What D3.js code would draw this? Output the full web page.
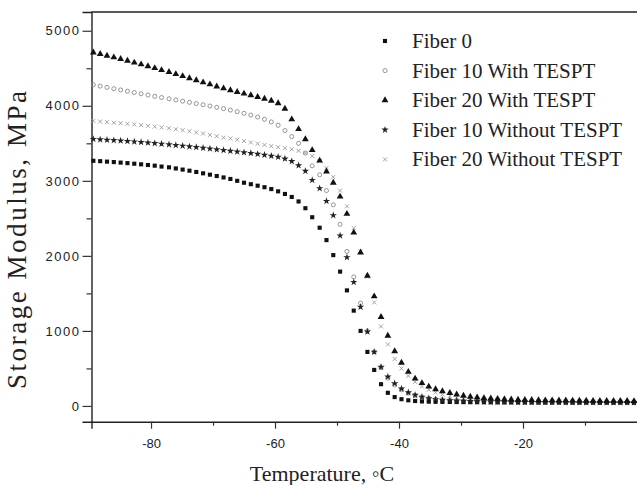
<!DOCTYPE html>
<html>
<head>
<meta charset="utf-8">
<script src="https://cdn.jsdelivr.net/npm/d3@7"></script>
<style>
  body { margin: 0; background: #fff; }
  svg { display: block; }
</style>
</head>
<body>
<div id="chart"></div>
<script>
// Temperature samples (°C), shared by all series
const temps = [
  -89.3, -88.2, -87.1, -86.0, -84.9, -83.8, -82.7, -81.6, -80.5, -79.4,
  -78.3, -77.1, -76.0, -74.9, -73.8, -72.7, -71.6, -70.5, -69.4, -68.3,
  -67.2, -66.1, -65.0, -63.9, -62.8, -61.7, -60.6, -59.5, -58.4, -57.3,
  -56.2, -55.1, -54.0, -52.8, -51.7, -50.6, -49.5, -48.4, -47.3, -46.2,
  -45.1, -44.0, -42.9, -41.8, -40.7, -39.6, -38.5, -37.4, -36.3, -35.2,
  -34.1, -33.0, -31.8, -30.7, -29.6, -28.5, -27.4, -26.3, -25.2, -24.1,
  -23.0, -21.9, -20.8, -19.7, -18.6, -17.5, -16.4, -15.3, -14.2, -13.1,
  -12.0, -10.9, -9.8, -8.7, -7.6, -6.5, -5.4, -4.3, -3.2, -2.1
];

// Storage modulus (MPa)
const fiber0 = [
  3267, 3262, 3256, 3250, 3243, 3236, 3228, 3220, 3211, 3202,
  3190, 3180, 3165, 3150, 3135, 3118, 3100, 3082, 3064, 3045,
  3025, 3000, 2975, 2955, 2935, 2915, 2890, 2860, 2825, 2785,
  2725, 2635, 2515, 2375, 2210, 2010, 1790, 1540, 1270, 1000,
  720, 480, 290, 175, 118, 90, 75, 66, 60, 57,
  55, 54, 53, 52, 51, 50, 50, 49, 49, 48,
  48, 48, 47, 47, 47, 46, 46, 46, 46, 45,
  45, 45, 45, 45, 44, 44, 44, 44, 44, 44
];
const fiber10With = [
  4280, 4262, 4245, 4228, 4211, 4194, 4177, 4160, 4143, 4126,
  4110, 4094, 4078, 4062, 4046, 4030, 4014, 3997, 3980, 3962,
  3943, 3922, 3900, 3876, 3850, 3820, 3785, 3740, 3670, 3590,
  3500, 3370, 3200, 3080, 2870, 2680, 2420, 2060, 1720, 1370,
  1000, 720, 510, 370, 280, 215, 170, 140, 118, 102,
  90, 82, 76, 71, 67, 64, 61, 59, 57, 55,
  54, 53, 52, 52, 51, 51, 50, 50, 50, 50,
  49, 49, 49, 49, 48, 48, 48, 48, 48, 48
];
const fiber20With = [
  4710, 4690, 4668, 4646, 4624, 4600, 4576, 4552, 4527, 4502,
  4476, 4450, 4423, 4396, 4368, 4340, 4312, 4285, 4258, 4232,
  4208, 4185, 4162, 4140, 4118, 4094, 4068, 4035, 3960, 3820,
  3690, 3555, 3410, 3270, 3125, 2975, 2790, 2560, 2310, 2045,
  1735, 1460, 1185, 935, 730, 575, 455, 365, 305, 258,
  222, 196, 172, 152, 136, 123, 113, 105, 99, 94,
  90, 86, 83, 81, 79, 77, 75, 74, 73, 72,
  71, 70, 69, 68, 68, 67, 67, 66, 66, 65
];
const fiber10Without = [
  3556, 3550, 3545, 3540, 3535, 3528, 3522, 3515, 3508, 3500,
  3492, 3484, 3475, 3466, 3457, 3448, 3438, 3428, 3418, 3408,
  3398, 3388, 3378, 3368, 3357, 3345, 3332, 3318, 3295, 3260,
  3205, 3130, 3010, 2900, 2730, 2540, 2270, 1980, 1650, 1320,
  990, 720, 520, 390, 300, 230, 180, 145, 120, 100,
  88, 80, 74, 70, 66, 63, 60, 58, 56, 55,
  54, 53, 52, 52, 51, 51, 50, 50, 50, 49,
  49, 49, 49, 48, 48, 48, 48, 48, 47, 47
];
const fiber20Without = [
  3800, 3790, 3782, 3775, 3768, 3760, 3752, 3743, 3733, 3722,
  3712, 3700, 3688, 3675, 3660, 3645, 3630, 3612, 3595, 3575,
  3565, 3548, 3530, 3512, 3495, 3478, 3462, 3448, 3435, 3420,
  3400, 3370, 3330, 3260, 3170, 3050, 2870, 2660, 2370, 2060,
  1720, 1380, 1060, 820, 625, 500, 400, 320, 260, 215,
  180, 152, 132, 116, 104, 95, 88, 82, 78, 74,
  71, 69, 67, 65, 64, 63, 62, 61, 60, 60,
  59, 59, 58, 58, 57, 57, 57, 56, 56, 56
];

const seriesNames = ["Fiber 0", "Fiber 10 With TESPT", "Fiber 20 With TESPT",
                     "Fiber 10 Without TESPT", "Fiber 20 Without TESPT"];
const xTicks = [-80, -60, -40, -20];
const xMinorTicks = [-70, -50, -30, -10];
const yTicks = [0, 1000, 2000, 3000, 4000, 5000];
const yMinorTicks = [500, 1500, 2500, 3500, 4500];

const width = 637, height = 485;
const margin = { top: 12, left: 91.5, bottom: 63.3 };

const svg = d3.select("#chart").append("svg")
    .attr("width", width)
    .attr("height", height)
    .style("background", "#fff");

// scales (plot runs past the right edge of the picture)
const x = d3.scaleLinear().domain([-89.6, 0]).range([margin.left, 647]);
const y = d3.scaleLinear().domain([-210, 5250]).range([height - margin.bottom, margin.top]);

// plain hyphen labels, no thousands separator
const plain = d => String(d);

// custom x-shaped symbol
const symbolTimes = {
  draw(ctx, size) {
    const r = Math.sqrt(size) / 2;
    ctx.moveTo(-r, -r); ctx.lineTo(r, r);
    ctx.moveTo(r, -r); ctx.lineTo(-r, r);
  }
};

const styles = [
  { type: d3.symbolSquare,   size: 17, fill: "#111", stroke: "none", sw: 0 },
  { type: d3.symbolCircle,   size: 13, fill: "none", stroke: "#8a8a8a", sw: 0.9 },
  { type: d3.symbolTriangle, size: 20, fill: "#111", stroke: "none", sw: 0 },
  { type: d3.symbolStar,     size: 17, fill: "#222", stroke: "none", sw: 0 },
  { type: symbolTimes,       size: 16, fill: "none", stroke: "#999", sw: 0.9 }
];

const allSeries = [fiber0, fiber10With, fiber20With, fiber10Without, fiber20Without];
const drawOrder = [1, 4, 0, 3, 2];

// axes
const yAxis = svg.append("g")
    .attr("transform", `translate(${margin.left},0)`)
    .call(d3.axisLeft(y).tickValues(yTicks).tickSize(9).tickPadding(2).tickFormat(plain));
svg.append("g")
    .attr("transform", `translate(${margin.left},0)`)
    .call(d3.axisLeft(y).tickValues(yMinorTicks).tickSize(5).tickFormat(""))
    .select(".domain").remove();

const xAxis = svg.append("g")
    .attr("transform", `translate(0,${height - margin.bottom})`)
    .call(d3.axisBottom(x).tickValues(xTicks).tickSize(7).tickPadding(10).tickFormat(plain));
svg.append("g")
    .attr("transform", `translate(0,${height - margin.bottom})`)
    .call(d3.axisBottom(x).tickValues(xMinorTicks).tickSize(4).tickFormat(""))
    .select(".domain").remove();

svg.selectAll(".domain").attr("stroke", "#222").attr("stroke-width", 1.4);
svg.selectAll(".tick line").attr("stroke", "#333").attr("stroke-width", 1.2);
svg.selectAll(".tick text")
    .attr("fill", "#222")
    .style("font-family", "'Liberation Sans', Arial, sans-serif")
    .style("font-size", "13px");
yAxis.selectAll(".tick text").style("letter-spacing", "1.5px");

// top frame line
svg.append("line")
    .attr("x1", x(-89.6)).attr("x2", width)
    .attr("y1", y(5250)).attr("y2", y(5250))
    .attr("stroke", "#222").attr("stroke-width", 1.4);

// data markers
drawOrder.forEach(i => {
  const st = styles[i];
  svg.append("g")
    .selectAll("path")
    .data(temps.map((t, k) => [t, allSeries[i][k]]))
    .enter()
    .append("path")
    .attr("transform", d => `translate(${x(d[0])},${y(d[1])})`)
    .attr("d", d3.symbol().type(st.type).size(st.size))
    .attr("fill", st.fill)
    .attr("stroke", st.stroke)
    .attr("stroke-width", st.sw);
});

// legend
const legend = svg.append("g").attr("transform", "translate(385,41)");
seriesNames.forEach((name, i) => {
  const st = styles[i];
  const row = legend.append("g").attr("transform", `translate(0,${i * 29.6})`);
  row.append("path")
    .attr("d", d3.symbol().type(st.type).size(st.size))
    .attr("fill", st.fill)
    .attr("stroke", st.stroke)
    .attr("stroke-width", st.sw);
  row.append("text")
    .attr("x", 27)
    .attr("y", 7)
    .attr("fill", "#222")
    .style("font-family", "'Liberation Serif', 'Times New Roman', serif")
    .style("font-size", "21px")
    .text(name);
});

// axis titles
svg.append("text")
    .attr("x", 322)
    .attr("y", 481)
    .attr("text-anchor", "middle")
    .attr("fill", "#222")
    .style("font-family", "'Liberation Serif', 'Times New Roman', serif")
    .style("font-size", "22px")
    .text("Temperature,  \u25E6C");

svg.append("text")
    .attr("transform", "translate(26,240) rotate(-90)")
    .attr("text-anchor", "middle")
    .attr("fill", "#222")
    .attr("textLength", 298)
    .attr("lengthAdjust", "spacing")
    .style("font-family", "'Liberation Serif', 'Times New Roman', serif")
    .style("font-size", "27px")
    .text("Storage Modulus, MPa");
</script>
</body>
</html>
